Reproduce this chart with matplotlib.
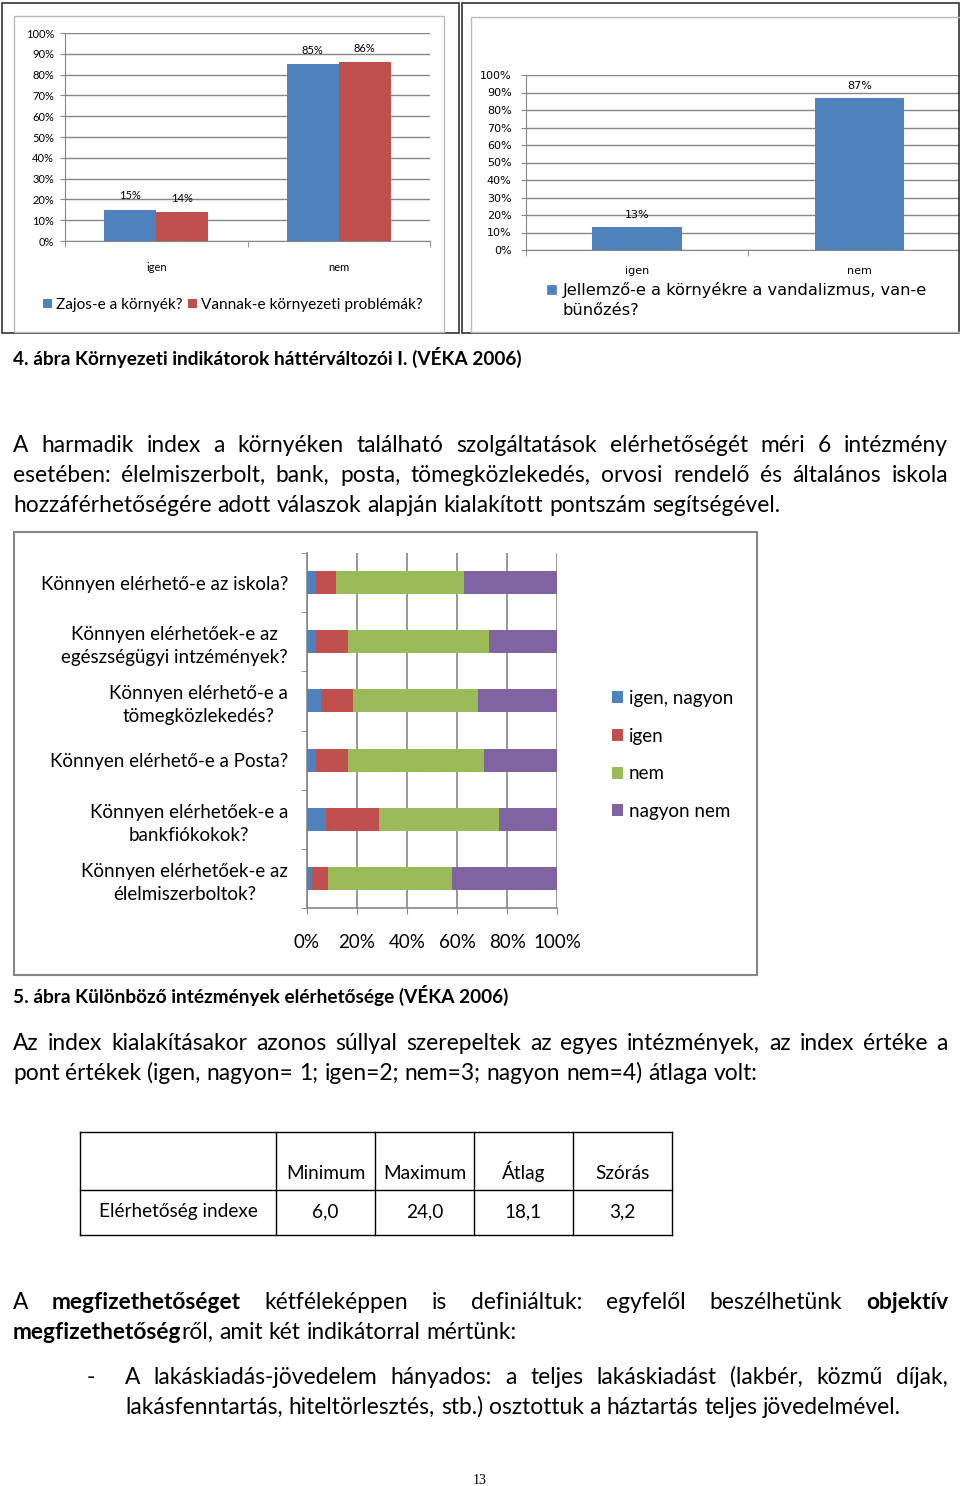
import numpy as np
import matplotlib
matplotlib.use("Agg")
import matplotlib.pyplot as plt
from matplotlib.patches import Rectangle
from matplotlib.lines import Line2D

# 4. ábra adatai
kategoriak = ["igen", "nem"]
zajos = [15, 85]
problemak = [14, 86]
vandalizmus = [13, 87]

# 5. ábra adatai (felülről lefelé)
intezmenyek = ["Könnyen elérhető-e az iskola?",
               "Könnyen elérhetőek-e az\negészségügyi intzémények?",
               "Könnyen elérhető-e a\ntömegközlekedés?",
               "Könnyen elérhető-e a Posta?",
               "Könnyen elérhetőek-e a\nbankfiókokok?",
               "Könnyen elérhetőek-e az\nélelmiszerboltok?"]
valaszok = ["igen, nagyon", "igen", "nem", "nagyon nem"]
igen_nagyon = [3.6, 3.6, 5.6, 3.6, 7.7, 2.3]
igen = [8.0, 12.9, 12.8, 12.9, 21.1, 6.3]
nem = [51.2, 56.3, 50.0, 54.4, 48.1, 49.3]
nagyon_nem = [37.2, 27.2, 31.6, 29.1, 23.1, 42.1]

# táblázat
tabla_fejlec = ["", "Minimum", "Maximum", "Átlag", "Szórás"]
tabla_sor = ["Elérhetőség indexe", "6,0", "24,0", "18,1", "3,2"]

W, H = 960, 1486
fig = plt.figure(figsize=(W / 100, H / 100), dpi=100)
renderer = fig.canvas.get_renderer()

BODY = ["Lato", "DejaVu Sans"]
GRID = "#868686"
BLUE, RED, GREEN, PURPLE = "#4F81BD", "#C0504D", "#9BBB59", "#8064A2"
BODY_SIZE = 16.4


def px_axes(x0, y0, x1, y1):
    return fig.add_axes([x0 / W, 1 - y1 / H, (x1 - x0) / W, (y1 - y0) / H])


def box(x0, y0, x1, y1, color, lw=1.0, fill=False):
    fig.add_artist(Rectangle((x0 / W, 1 - y1 / H), (x1 - x0) / W, (y1 - y0) / H,
                             transform=fig.transFigure, fill=fill, ec=color,
                             fc=color if fill else "none", lw=lw))


def seg(x0, y0, x1, y1, color="black", lw=1.0):
    fig.add_artist(Line2D([x0 / W, x1 / W], [1 - y0 / H, 1 - y1 / H],
                          transform=fig.transFigure, color=color, lw=lw))


def measure(txt, bold, size):
    t = fig.text(0, 0, txt, fontsize=size, family=BODY, weight="bold" if bold else "normal")
    w = t.get_window_extent(renderer).width
    t.remove()
    return w


def pieces(word):
    parts = word.split("**")
    return [(p, i % 2 == 1) for i, p in enumerate(parts) if p]


def line(text, x0, y, x1=None, size=BODY_SIZE):
    # sorkizárt (x1 megadva) vagy balra zárt sor, szavanként elhelyezve
    words = [pieces(w) for w in text.split(" ")]
    widths = [sum(measure(t, b, size) for t, b in w) for w in words]
    if x1 is None:
        gap = measure("a a", False, size) - measure("aa", False, size)
    else:
        gap = (x1 - x0 - sum(widths)) / (len(words) - 1)
    x = x0
    for w, ww in zip(words, widths):
        xx = x
        for t, b in w:
            tt = fig.text(xx / W, 1 - y / H, t, fontsize=size, family=BODY,
                          weight="bold" if b else "normal", ha="left", va="baseline")
            xx = tt.get_window_extent(renderer).x1
        x += ww + gap


def style_column_axes(ax, pad_x, pad_y, family):
    ax.set_xlim(-0.5, 1.5)
    ax.set_ylim(0, 100)
    ax.set_yticks(np.arange(0, 101, 10))
    ax.set_yticklabels([f"{v}%" for v in range(0, 101, 10)], family=family)
    ax.set_xticks([0, 1])
    ax.set_xticklabels(kategoriak, family=family)
    ax.set_xticks([-0.5, 0.5, 1.5], minor=True)
    ax.tick_params(axis="x", which="major", length=0, pad=pad_x, labelsize=8)
    ax.tick_params(axis="x", which="minor", length=4, color=GRID)
    ax.tick_params(axis="y", length=3.6, color=GRID, pad=pad_y, labelsize=8)
    ax.yaxis.grid(True, color=GRID, lw=1)
    ax.set_axisbelow(True)
    for s in ["top", "right"]:
        ax.spines[s].set_visible(False)
    for s in ["left", "bottom"]:
        ax.spines[s].set_color(GRID)


# ---- 4. ábra bal oldali diagram ----
box(2, 3, 459, 333, "#333333", 1.2)
box(14, 16, 444, 332, "#BBBBBB", 1.0)
ax1 = px_axes(65, 33, 430, 241)
x = np.arange(len(kategoriak))
bw = 0.285
b1 = ax1.bar(x - bw / 2, zajos, bw, color=BLUE, label="Zajos-e a környék?")
b2 = ax1.bar(x + bw / 2, problemak, bw, color=RED, label="Vannak-e környezeti problémák?")
ax1.bar_label(b1, labels=[f"{v}%" for v in zajos], padding=6, fontsize=8, family=BODY)
ax1.bar_label(b2, labels=[f"{v}%" for v in problemak], padding=6, fontsize=8, family=BODY)
style_column_axes(ax1, 15, 4.3, BODY)
ax1.legend(loc="center", bbox_to_anchor=(233 / W, 1 - 305 / H), bbox_transform=fig.transFigure,
           ncol=2, frameon=False, handlelength=0.6, handleheight=0.6, handletextpad=0.25,
           columnspacing=0.35, prop={"family": BODY, "size": 11.1})

# ---- 4. ábra jobb oldali diagram ----
box(462, 3, 959, 333, "#333333", 1.2)
box(471, 17, 965, 332, "#BBBBBB", 1.0)
ax2 = px_axes(525.7, 75, 971, 250)
b3 = ax2.bar(x, vandalizmus, 0.4, color=BLUE,
             label="Jellemző-e a környékre a vandalizmus, van-e\nbünőzés?")
ax2.bar_label(b3, labels=[f"{v}%" for v in vandalizmus], padding=5, fontsize=8)
style_column_axes(ax2, 11.5, 6.5, ["DejaVu Sans"])
# jelmagyarázat kézzel, hogy a négyzet az első sorhoz igazodjon
box(547, 285, 556, 294, BLUE, 0.5, fill=True)
fig.text(563 / W, 1 - 282 / H, b3.get_label(), fontsize=11.7, va="top", ha="left", linespacing=1.42)

fig.text(13 / W, 1 - 365 / H, "4. ábra Környezeti indikátorok háttérváltozói I. (VÉKA 2006)",
         fontsize=13.7, family=BODY, weight="bold", va="baseline")

line("A harmadik index a környéken található szolgáltatások elérhetőségét méri 6 intézmény", 13, 452, 948)
line("esetében: élelmiszerbolt, bank, posta, tömegközlekedés, orvosi rendelő és általános iskola", 13, 482, 948)
line("hozzáférhetőségére adott válaszok alapján kialakított pontszám segítségével.", 13, 512)

# ---- 5. ábra ----
box(14, 532, 757, 975, GRID, 1.5)
ax3 = px_axes(306.7, 553, 557.3, 908)
ypos = np.arange(len(intezmenyek))[::-1]
left = np.zeros(len(intezmenyek))
for vals, col, lab in zip([igen_nagyon, igen, nem, nagyon_nem], [BLUE, RED, GREEN, PURPLE], valaszok):
    ax3.barh(ypos, vals, 0.39, left=left, color=col, label=lab, zorder=3)
    left += np.array(vals)
ax3.set_xlim(0, 100)
ax3.set_ylim(-0.5, len(intezmenyek) - 0.5)
ax3.set_xticks(np.arange(0, 101, 20))
ax3.set_xticklabels([f"{v}%" for v in range(0, 101, 20)], fontsize=13.5, family=BODY)
ax3.set_yticks(ypos)
ax3.set_yticklabels(intezmenyek, fontsize=13.5, family=BODY, linespacing=1.42)
for t in ax3.get_yticklabels():
    t.set_multialignment("center")
ax3.set_yticks(np.arange(-0.5, len(intezmenyek), 1.0), minor=True)
ax3.tick_params(axis="y", which="major", length=0, pad=13.5)
ax3.tick_params(axis="y", which="minor", length=4, color=GRID)
ax3.tick_params(axis="x", length=4, color=GRID, pad=15)
ax3.xaxis.grid(True, color=GRID, lw=1.2, zorder=0)
ax3.set_axisbelow(True)
for s in ["top", "right"]:
    ax3.spines[s].set_visible(False)
for s in ["left", "bottom"]:
    ax3.spines[s].set_color(GRID)
    ax3.spines[s].set_linewidth(1.2)
h3, l3 = ax3.get_legend_handles_labels()
fig.legend(h3, l3, loc="upper left", bbox_to_anchor=(612 / W, 1 - 690 / H), frameon=False,
           handlelength=0.6, handleheight=0.6, handletextpad=0.3, labelspacing=1.1,
           prop={"family": BODY, "size": 13.5}, borderpad=0, borderaxespad=0)

fig.text(13 / W, 1 - 1003 / H, "5. ábra Különböző intézmények elérhetősége (VÉKA 2006)",
         fontsize=13.7, family=BODY, weight="bold", va="baseline")

line("Az index kialakításakor azonos súllyal szerepeltek az egyes intézmények, az index értéke a", 13, 1050, 948)
line("pont értékek (igen, nagyon= 1; igen=2; nem=3; nagyon nem=4) átlaga volt:", 13, 1080)

# ---- táblázat ----
col_x = [80, 276, 375, 474, 573, 672]
row_y = [1132, 1190, 1235]
for yy in row_y:
    seg(col_x[0], yy, col_x[-1], yy)
for xx in col_x:
    seg(xx, row_y[0], xx, row_y[-1])
for i in range(len(tabla_fejlec)):
    cx = (col_x[i] + col_x[i + 1]) / 2
    fig.text(cx / W, 1 - 1179 / H, tabla_fejlec[i], fontsize=13.7, family=BODY, ha="center", va="baseline")
    fig.text(cx / W, 1 - 1217 / H, tabla_sor[i], fontsize=13.7, family=BODY, ha="center", va="baseline")

line("A **megfizethetőséget** kétféleképpen is definiáltuk: egyfelől beszélhetünk **objektív**", 13, 1309, 948)
line("**megfizethetőség**ről, amit két indikátorral mértünk:", 13, 1339)
fig.text(91 / W, 1 - 1384 / H, "-", fontsize=BODY_SIZE, family=BODY, ha="center", va="baseline")
line("A lakáskiadás-jövedelem hányados: a teljes lakáskiadást (lakbér, közmű díjak,", 125, 1384, 948)
line("lakásfenntartás, hiteltörlesztés, stb.) osztottuk a háztartás teljes jövedelmével.", 125, 1414)

fig.text(480 / W, 1 - 1484 / H, "13", fontsize=10, family=["Liberation Serif", "DejaVu Serif"],
         ha="center", va="baseline")

fig.savefig("out.png", dpi=100, facecolor="white")
